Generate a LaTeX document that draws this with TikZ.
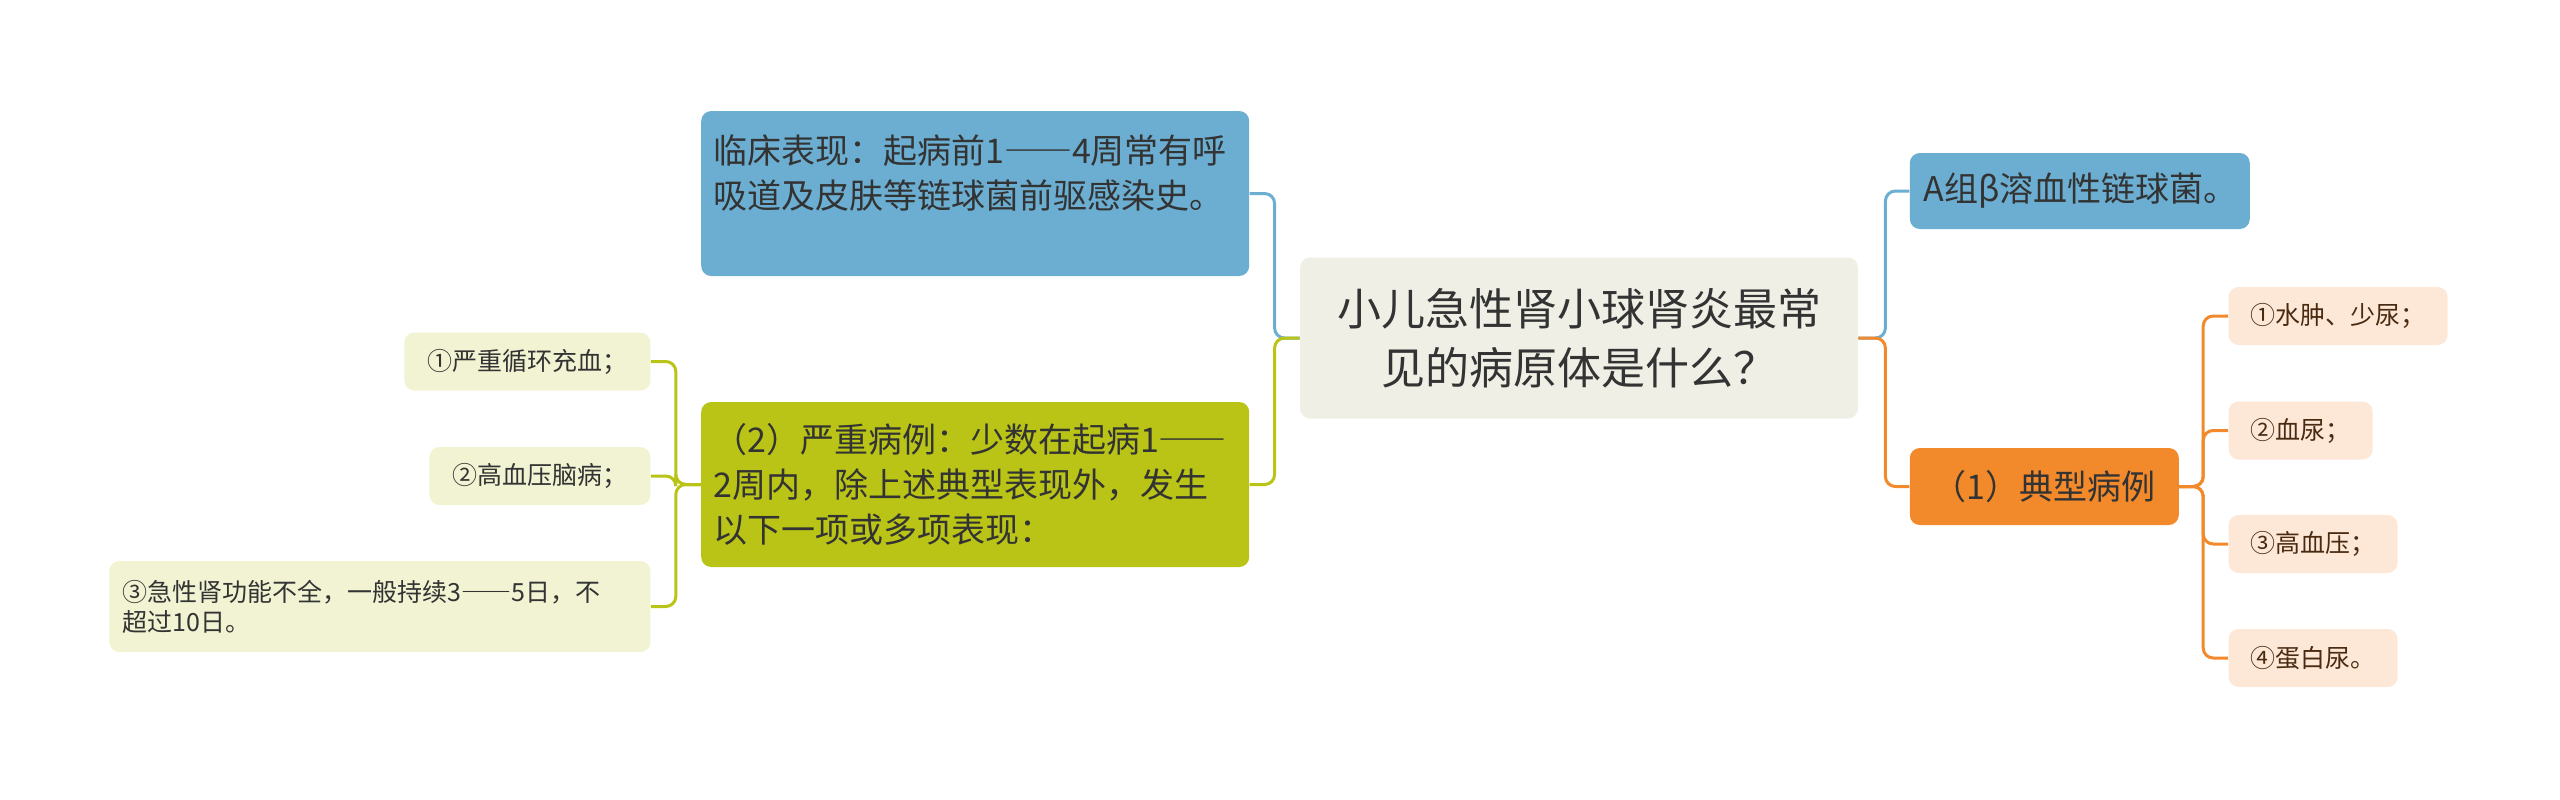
\documentclass[tikz,border=0pt]{standalone}
\usepackage{fontspec}
\setmainfont{Noto Sans CJK SC}
\newfontfamily\fwfont[RawFeature=+fwid]{Noto Sans CJK SC}
\newcommand{\longdash}{{\fwfont ——}}
\usepackage{tikz}
\usetikzlibrary{shapes,positioning}
\definecolor{rootfill}{HTML}{EFEFE6}
\definecolor{blueC}{HTML}{6BAED1}
\definecolor{greenC}{HTML}{B9C417}
\definecolor{orangeC}{HTML}{F2892A}
\definecolor{greenleaf}{HTML}{F1F3D2}
\definecolor{orangeleaf}{HTML}{FDE8D8}
\definecolor{textdark}{HTML}{333333}
\definecolor{textbrown}{HTML}{4A2B12}
\tikzstyle{rootbox} = [rectangle, rounded corners=5pt, fill=rootfill, text=textdark, minimum width=279pt, minimum height=80.5pt, text width=250pt, align=center, font=\fontsize{22pt}{29.5pt}\selectfont]
\tikzstyle{topic} = [rectangle, rounded corners=5pt, text=textdark, inner xsep=6pt, font=\fontsize{17pt}{22.5pt}\selectfont]
\tikzstyle{leafL} = [rectangle, rounded corners=5pt, fill=greenleaf, text=textdark, minimum height=29pt, inner xsep=11.5pt, font=\fontsize{12.5pt}{15pt}\selectfont]
\tikzstyle{leafR} = [rectangle, rounded corners=5pt, fill=orangeleaf, text=textbrown, minimum height=29pt, inner xsep=11pt, font=\fontsize{12.5pt}{15pt}\selectfont]
\tikzstyle{bluelink} = [draw=blueC, line width=1.5pt, rounded corners=5pt]
\tikzstyle{greenlink} = [draw=greenC, line width=1.5pt, rounded corners=5pt]
\tikzstyle{orangelink} = [draw=orangeC, line width=1.5pt, rounded corners=5pt]

\begin{document}
\begin{tikzpicture}

\useasboundingbox (0,0) rectangle (1280pt,-399.5pt);

\node (root) [rootbox] at (789.5pt,-169pt) {小儿急性肾小球肾炎最常\\见的病原体是什么？};

% left side
\node (clin) [topic, fill=blueC, left=25pt of root, yshift=72.25pt, text width=262pt, align=left, inner ysep=4.25pt, text height=21.75pt, text depth=52.25pt] {临床表现：起病前1\longdash4周常有呼\\吸道及皮肤等链球菌前驱感染史。};
\node (severe) [topic, fill=greenC, left=25pt of root, yshift=-73.25pt, text width=262pt, align=left, minimum height=82.5pt] {（2）严重病例：少数在起病1\longdash\\2周内，除上述典型表现外，发生\\以下一项或多项表现：};

\node (sv1) [leafL, left=25pt of severe, yshift=61.5pt] {①严重循环充血；};
\node (sv2) [leafL, left=25pt of severe, yshift=4.25pt] {②高血压脑病；};
\node (sv3) [leafL, left=25pt of severe, yshift=-61pt, text width=257pt, align=left, inner xsep=6.75pt, minimum height=45.5pt] {③急性肾功能不全，一般持续3\longdash5日，不\\超过10日。};

% right side
\node (germ) [topic, fill=blueC, right=25.5pt of root, yshift=73.5pt, inner xsep=7pt, text width=156pt, align=left, minimum height=38pt] {A组β溶血性链球菌。};
\node (typical) [topic, fill=orangeC, right=25.5pt of root, yshift=-74.25pt, minimum width=134.5pt, minimum height=38.5pt] {（1）典型病例};

\node (ty1) [leafR, right=24.5pt of typical, yshift=85.25pt] {①水肿、少尿；};
\node (ty2) [leafR, right=24.5pt of typical, yshift=28pt] {②血尿；};
\node (ty3) [leafR, right=24.5pt of typical, yshift=-28.75pt] {③高血压；};
\node (ty4) [leafR, right=24.5pt of typical, yshift=-85.75pt] {④蛋白尿。};

\draw [bluelink] (root.west) -- ++(-12.5pt,0) |- (clin.east);
\draw [greenlink] (root.west) -- ++(-12.5pt,0) |- (severe.east);
\draw [greenlink] (severe.west) -- ++(-12.5pt,0) |- (sv1.east);
\draw [greenlink] (severe.west) -- ++(-12.5pt,0) |- (sv2.east);
\draw [greenlink] (severe.west) -- ++(-12.5pt,0) |- (sv3.east);

\draw [bluelink] (root.east) -- ++(13.5pt,0) |- (germ.west);
\draw [orangelink] (root.east) -- ++(13.5pt,0) |- (typical.west);
\draw [orangelink] (typical.east) -- ++(12pt,0) |- (ty1.west);
\draw [orangelink] (typical.east) -- ++(12pt,0) |- (ty2.west);
\draw [orangelink] (typical.east) -- ++(12pt,0) |- (ty3.west);
\draw [orangelink] (typical.east) -- ++(12pt,0) |- (ty4.west);

\end{tikzpicture}
\end{document}
